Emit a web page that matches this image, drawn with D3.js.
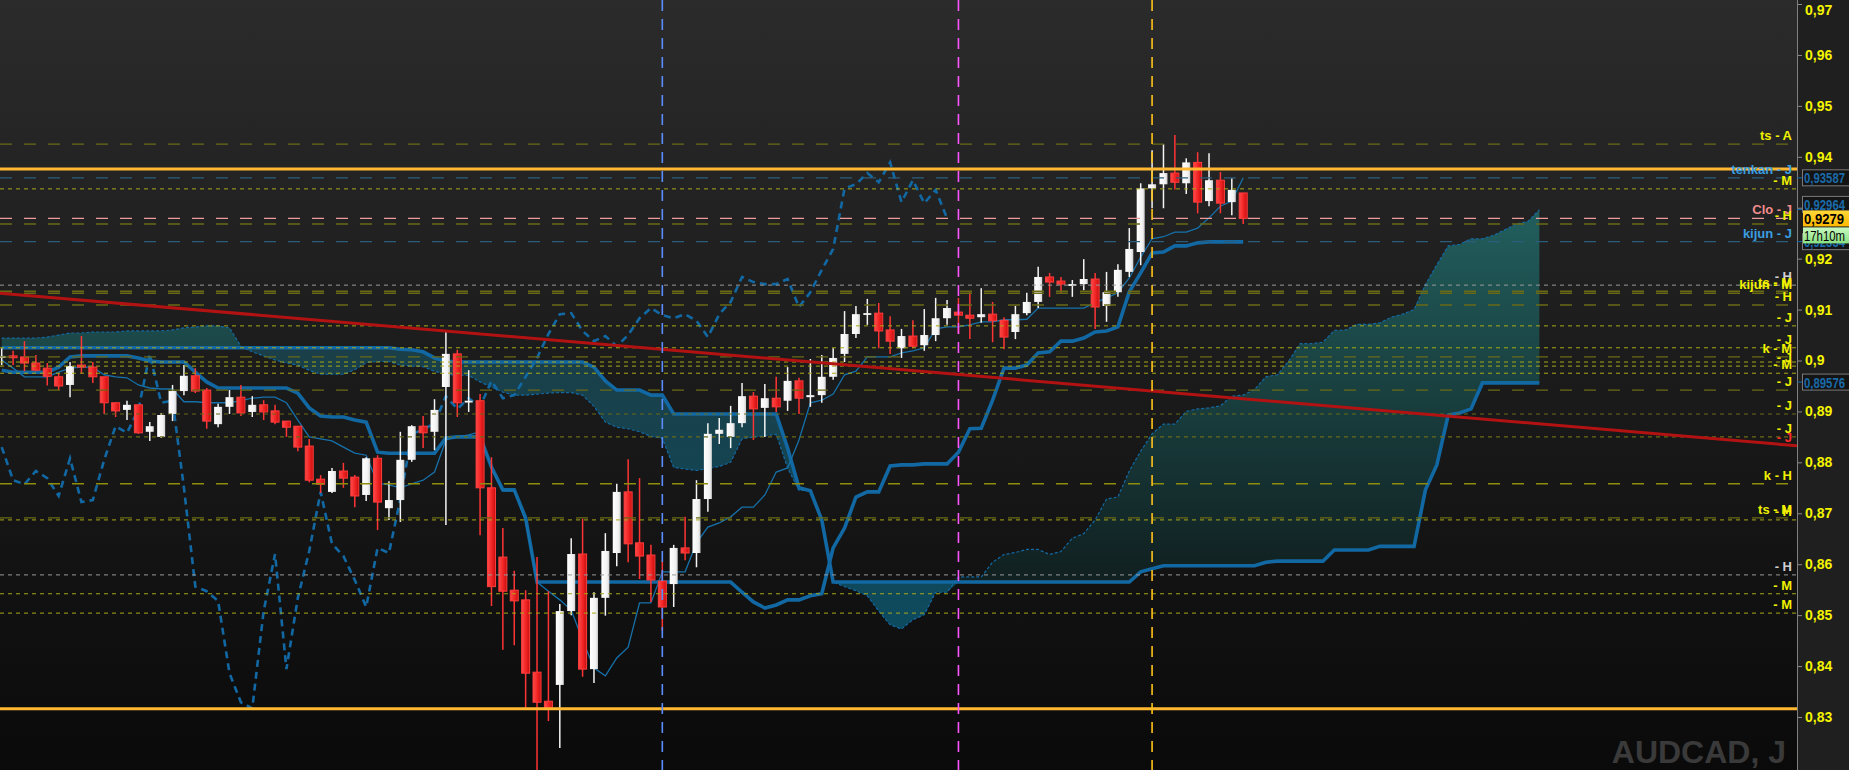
<!DOCTYPE html>
<html><head><meta charset="utf-8">
<script src="https://cdn.jsdelivr.net/npm/d3@7"></script>
<style>html,body{margin:0;padding:0;background:#1f1f1f;overflow:hidden}</style>
</head><body><svg id="c" width="1849" height="770"></svg>
<script>
// ---------------- DATA ----------------
const opens=[0.9005,0.9009,0.9007,0.8995,0.8985,0.8968,0.8952,0.8991,0.8987,0.8968,
0.8917,0.8903,0.8913,0.8860,0.8850,0.8895,0.8940,0.8970,0.8942,0.8875,
0.8909,0.8928,0.8899,0.8913,0.8901,0.8881,0.8871,0.8832,0.8767,0.8742,
0.8783,0.8771,0.8736,0.8808,0.8710,0.8726,0.8805,0.8871,0.8860,0.8948,
0.9013,0.8919,0.8921,0.8750,0.8614,0.8549,0.8530,0.8388,0.8331,0.8363,
0.8508,0.8620,0.8394,0.8534,0.8622,0.8742,0.8642,0.8618,0.8567,0.8561,
0.8632,0.8622,0.8728,0.8856,0.8850,0.8877,0.8930,0.8907,0.8926,0.8921,
0.8960,0.8928,0.8932,0.8968,0.9013,0.9052,0.9091,0.9093,0.9060,0.9024,
0.9048,0.9030,0.9050,0.9083,0.9095,0.9089,0.9085,0.9091,0.9079,0.9056,
0.9093,0.9115,0.9164,0.9156,0.9148,0.9150,0.9160,0.9107,0.9134,0.9174,
0.9213,0.9338,0.9346,0.9368,0.9348,0.9389,0.9313,0.9354,0.9311,0.9329];
const highs=[0.9024,0.9019,0.9038,0.9011,0.8995,0.8975,0.8997,0.9048,0.8997,0.8968,
0.8917,0.8921,0.8913,0.8879,0.8897,0.8952,0.8991,0.8985,0.8946,0.8915,
0.8942,0.8952,0.8930,0.8922,0.8913,0.8881,0.8871,0.8846,0.8775,0.8789,
0.8799,0.8775,0.8810,0.8814,0.8763,0.8860,0.8873,0.8891,0.8924,0.9056,
0.9021,0.8981,0.8934,0.8810,0.8671,0.8587,0.8549,0.8614,0.8547,0.8522,
0.8651,0.8689,0.8545,0.8661,0.8758,0.8806,0.8769,0.8638,0.8608,0.8638,
0.8693,0.8765,0.8877,0.8887,0.8911,0.8956,0.8938,0.8954,0.8968,0.8987,
0.8966,0.9003,0.9011,0.9024,0.9097,0.9107,0.9121,0.9113,0.9087,0.9062,
0.9079,0.9101,0.9123,0.9119,0.9123,0.9134,0.9142,0.9115,0.9085,0.9107,
0.9133,0.9184,0.9172,0.9164,0.9158,0.9199,0.9172,0.9174,0.9189,0.9260,
0.9348,0.9413,0.9425,0.9443,0.9397,0.9409,0.9407,0.9370,0.9358,0.9329];
const lows=[0.8991,0.8991,0.8979,0.8979,0.8951,0.8942,0.8928,0.8975,0.8956,0.8895,
0.8889,0.8883,0.8856,0.8842,0.8848,0.8881,0.8932,0.8936,0.8866,0.8869,
0.8895,0.8891,0.8889,0.8883,0.8875,0.8850,0.8822,0.8761,0.8740,0.8740,
0.8750,0.8712,0.8724,0.8667,0.8687,0.8683,0.8801,0.8828,0.8824,0.8677,
0.8889,0.8899,0.8657,0.8518,0.8432,0.8441,0.8314,0.8074,0.8292,0.8239,
0.8500,0.8379,0.8367,0.8499,0.8596,0.8604,0.8571,0.8526,0.8469,0.8516,
0.8608,0.8594,0.8703,0.8836,0.8828,0.8869,0.8844,0.8850,0.8899,0.8901,
0.8895,0.8909,0.8917,0.8962,0.8997,0.9044,0.9070,0.9024,0.9013,0.9005,
0.9024,0.9019,0.9038,0.9070,0.9052,0.9042,0.9074,0.9036,0.9022,0.9042,
0.9089,0.9103,0.9125,0.9132,0.9125,0.9138,0.9062,0.9076,0.9125,0.9164,
0.9187,0.9299,0.9299,0.9336,0.9327,0.9289,0.9303,0.9289,0.9285,0.9268];
const closes=[0.9009,0.9007,0.8995,0.8981,0.8969,0.8950,0.8989,0.8987,0.8968,0.8917,
0.8901,0.8913,0.8858,0.8871,0.8893,0.8940,0.8970,0.8940,0.8881,0.8909,
0.8928,0.8897,0.8913,0.8899,0.8879,0.8869,0.8830,0.8765,0.8757,0.8783,
0.8769,0.8734,0.8808,0.8722,0.8726,0.8805,0.8871,0.8858,0.8903,0.9013,
0.8917,0.8921,0.8750,0.8556,0.8547,0.8528,0.8386,0.8329,0.8317,0.8508,
0.8620,0.8394,0.8534,0.8626,0.8742,0.8640,0.8616,0.8569,0.8516,0.8632,
0.8622,0.8728,0.8856,0.8864,0.8877,0.8930,0.8905,0.8926,0.8909,0.8960,
0.8926,0.8932,0.8968,0.9005,0.9052,0.9091,0.9093,0.9058,0.9038,0.9048,
0.9028,0.9050,0.9083,0.9103,0.9089,0.9083,0.9091,0.9078,0.9046,0.9091,
0.9115,0.9164,0.9154,0.9150,0.9150,0.9160,0.9105,0.9134,0.9178,0.9219,
0.9338,0.9346,0.9368,0.9350,0.9389,0.9311,0.9354,0.9309,0.9335,0.9279];
const tenkan=[0.9001,0.8985,0.8968,0.8968,0.8968,0.8977,0.8985,0.8987,0.8987,0.8972,
0.8968,0.8966,0.8952,0.8946,0.8944,0.8944,0.8919,0.8919,0.8917,0.8917,
0.8917,0.8921,0.8926,0.8928,0.8928,0.8917,0.8883,0.8850,0.8846,0.8842,
0.8830,0.8818,0.8814,0.8759,0.8756,0.8750,0.8758,0.8765,0.8781,0.8844,
0.8850,0.8854,0.8860,0.8787,0.8744,0.8744,0.8685,0.8565,0.8547,0.8530,
0.8510,0.8451,0.8396,0.8381,0.8416,0.8437,0.8524,0.8524,0.8585,0.8585,
0.8585,0.8642,0.8673,0.8681,0.8693,0.8712,0.8712,0.8736,0.8781,0.8789,
0.8844,0.8917,0.8922,0.8934,0.8972,0.8979,0.9007,0.9007,0.9007,0.9015,
0.9019,0.9025,0.9062,0.9066,0.9066,0.9070,0.9076,0.9076,0.9080,0.9080,
0.9081,0.9103,0.9103,0.9103,0.9103,0.9103,0.9113,0.9123,0.9133,0.9162,
0.9203,0.9239,0.9243,0.9252,0.9252,0.9260,0.9280,0.9303,0.9313,0.9359];
const kijun=[0.8981,0.8977,0.8977,0.8977,0.8977,0.8987,0.9007,0.9009,0.9009,0.9009,
0.9009,0.9009,0.9005,0.8999,0.8997,0.8997,0.8997,0.8977,0.8958,0.8946,
0.8946,0.8946,0.8946,0.8946,0.8946,0.8946,0.8936,0.8907,0.8891,0.8889,
0.8889,0.8883,0.8879,0.8820,0.8818,0.8818,0.8818,0.8818,0.8818,0.8848,
0.8850,0.8850,0.8850,0.8791,0.8746,0.8746,0.8691,0.8565,0.8565,0.8565,
0.8565,0.8565,0.8565,0.8565,0.8565,0.8565,0.8565,0.8565,0.8565,0.8565,
0.8565,0.8565,0.8565,0.8565,0.8565,0.8545,0.8526,0.8514,0.8520,0.8530,
0.8530,0.8538,0.8542,0.8632,0.8671,0.8732,0.8742,0.8742,0.8793,0.8795,
0.8795,0.8797,0.8797,0.8797,0.8820,0.8866,0.8867,0.8922,0.8985,0.8985,
0.8991,0.9015,0.9017,0.9038,0.9038,0.9044,0.9056,0.9058,0.9066,0.9135,
0.9172,0.9211,0.9213,0.9225,0.9225,0.9231,0.9233,0.9233,0.9233,0.9233];
const senkouA=[0.9044,0.9044,0.9044,0.9044,0.9046,0.9050,0.9054,0.9054,0.9056,0.9056,
0.9056,0.9058,0.9058,0.9058,0.9058,0.9060,0.9064,0.9066,0.9068,0.9068,
0.9064,0.9028,0.9017,0.9009,0.9001,0.8995,0.8991,0.8981,0.8973,0.8973,
0.8973,0.8982,0.8996,0.8998,0.8998,0.8991,0.8989,0.8988,0.8979,0.8973,
0.8971,0.8971,0.8958,0.8948,0.8938,0.8932,0.8932,0.8934,0.8936,0.8937,
0.8937,0.8932,0.8910,0.8879,0.8869,0.8866,0.8860,0.8851,0.8847,0.8790,
0.8787,0.8784,0.8788,0.8792,0.8800,0.8846,0.8850,0.8852,0.8855,0.8789,
0.8745,0.8745,0.8688,0.8565,0.8556,0.8548,0.8538,0.8508,0.8481,0.8473,
0.8491,0.8501,0.8545,0.8545,0.8575,0.8575,0.8575,0.8604,0.8619,0.8623,
0.8629,0.8629,0.8619,0.8625,0.8651,0.8660,0.8687,0.8728,0.8732,0.8783,
0.8822,0.8856,0.8875,0.8875,0.8900,0.8905,0.8907,0.8911,0.8930,0.8932,
0.8943,0.8968,0.8972,0.8999,0.9033,0.9033,0.9036,0.9059,0.9060,0.9071,
0.9071,0.9074,0.9085,0.9091,0.9100,0.9149,0.9188,0.9225,0.9228,0.9239,
0.9239,0.9246,0.9257,0.9268,0.9273,0.9296];
const senkouB=[0.9025,0.9025,0.9025,0.9025,0.9025,0.9025,0.9025,0.9025,0.9025,0.9025,
0.9025,0.9025,0.9025,0.9025,0.9025,0.9025,0.9025,0.9025,0.9025,0.9025,
0.9025,0.9025,0.9025,0.9025,0.9025,0.9025,0.9025,0.9025,0.9025,0.9025,
0.9025,0.9025,0.9025,0.9025,0.9025,0.9022,0.9021,0.9017,0.9005,0.8999,
0.8997,0.8997,0.8997,0.8997,0.8997,0.8997,0.8997,0.8997,0.8997,0.8997,
0.8997,0.8997,0.8987,0.8960,0.8942,0.8942,0.8942,0.8932,0.8932,0.8895,
0.8895,0.8895,0.8895,0.8895,0.8895,0.8895,0.8895,0.8895,0.8895,0.8828,
0.8750,0.8744,0.8687,0.8565,0.8565,0.8565,0.8565,0.8565,0.8565,0.8565,
0.8565,0.8565,0.8565,0.8565,0.8565,0.8565,0.8565,0.8565,0.8565,0.8565,
0.8565,0.8565,0.8565,0.8565,0.8565,0.8565,0.8565,0.8565,0.8565,0.8565,
0.8585,0.8591,0.8597,0.8597,0.8597,0.8597,0.8597,0.8597,0.8597,0.8597,
0.8597,0.8604,0.8606,0.8606,0.8606,0.8606,0.8606,0.8628,0.8628,0.8628,
0.8628,0.8635,0.8635,0.8635,0.8635,0.8746,0.8795,0.8893,0.8897,0.8905,
0.8956,0.8956,0.8956,0.8956,0.8956,0.8956];
const chikouShift=26;
const tickValues=[0.83,0.84,0.85,0.86,0.87,0.88,0.89,0.90,0.91,0.92,0.93,0.94,0.95,0.96,0.97];
const levelValues=[0.9425,0.9376,0.93587,0.9337,0.9279,0.9268,0.92334,0.9148,0.9136,0.9132,0.9109,0.9068,0.9025,0.9007,0.8997,0.8989,0.8975,0.8942,0.8895,0.8850,0.8758,0.8691,0.8687,0.8579,0.8542,0.8504,0.8316];
const levelKinds=['olive','orange','blue','yellow','pink','olive','blue','grey','olive','olive','olive','yellow','yellow','olive','yellow','yellow','yellow','olive','oliveShort','oliveShort','bright','olive','yellow','grey','yellow','yellow','orange'];
const labelTexts=['ts - A','tenkan - J','- M','Clo - J','- H','kijun - J','- H','kijun - M','ts - M','- H','- J','- J','k - M','- J','- M','- J','- J','- J','- J','k - H','ts - M','- H','- H','- M','- M'];
const labelValues=[0.9425,0.93587,0.9337,0.9279,0.9268,0.92334,0.9148,0.9133,0.9136,0.9109,0.9068,0.9025,0.9007,0.8989,0.8975,0.8942,0.8895,0.8850,0.8833,0.8758,0.8691,0.8687,0.8579,0.8542,0.8504];
const labelTones=['y','b','y','p','y','b','w','y','y','y','y','y','y','y','y','y','y','y','r','y','y','y','w','y','y'];
const trendPoints=[{i:0,v:0.9132},{i:150,v:0.8847}];
const markerIdx=[58,84,101];
const markerTones=['blue','magenta','gold'];
const boxValues=[0.93587,0.92964,0.92334,0.89576];
const lastPrice=0.9279;
const countdown='17h10m';
const symbolText='AUDCAD, J';

// ---------------- RENDER ----------------
const W=1849,H=770,AX=1797;
const FONT='"Liberation Sans",Arial,Helvetica,sans-serif';
const x=d3.scaleLinear().domain([0,109]).range([1.7,1243.2]);
const y=d3.scaleLinear().domain([0.83,0.97]).range([717,4]);
const svg=d3.select('#c');
const defs=svg.append('defs');
function vgrad(id,stops,units,y1,y2,x2){
  const gr=defs.append('linearGradient').attr('id',id);
  if(units){gr.attr('gradientUnits','userSpaceOnUse').attr('x1',0).attr('x2',0).attr('y1',y1).attr('y2',y2);}
  else if(x2){gr.attr('x1',0).attr('y1',0).attr('x2',1).attr('y2',0);}
  else {gr.attr('x1',0).attr('y1',0).attr('x2',0).attr('y2',1);}
  stops.forEach(s=>gr.append('stop').attr('offset',s[0]).attr('stop-color',s[1]));
}
vgrad('bg',[['0%','#2b2b2b'],['100%','#0a0a0a']]);
vgrad('bull',[['0%','#22605f'],['100%','#101c1d']],true,200,600);
vgrad('bear',[['0%','#1a3f48'],['100%','#0d4b5f']],true,350,640);
vgrad('wc',[['0%','#ffffff'],['70%','#f2f2f2'],['100%','#cfcfcf']],false,0,0,true);
vgrad('rc',[['0%','#ff4a4a'],['60%','#ee2020'],['100%','#c01010']],false,0,0,true);
vgrad('pbox',[['0%','#ffd83a'],['100%','#ffb800']]);
vgrad('gbox',[['0%','#c8f8c0'],['100%','#88e080']]);

svg.append('rect').attr('width',W).attr('height',H).attr('fill','#1f1f1f');
svg.append('rect').attr('width',AX).attr('height',H).attr('fill','url(#bg)');
defs.append('clipPath').attr('id','clip').append('rect').attr('width',AX).attr('height',H);
defs.append('clipPath').attr('id','aclip').append('rect').attr('x',AX).attr('width',W-AX).attr('height',H);
const g=svg.append('g').attr('clip-path','url(#clip)');

// watermark
g.append('text').attr('x',1786).attr('y',763).attr('text-anchor','end')
  .attr('fill','#3a3a3a').style('font',`bold 32px ${FONT}`).text(symbolText);

// cloud
const cIdx=d3.range(senkouA.length);
g.append('path').attr('fill','url(#bull)')
  .attr('d',d3.area().x(i=>x(i)).y0(i=>y(senkouB[i])).y1(i=>Math.min(y(senkouA[i]),y(senkouB[i])))(cIdx));
g.append('path').attr('fill','url(#bear)')
  .attr('d',d3.area().x(i=>x(i)).y0(i=>y(senkouB[i])).y1(i=>Math.max(y(senkouA[i]),y(senkouB[i])))(cIdx));

const ln=d3.line().x((d,i)=>x(i)).y(d=>y(d));
const LB='#1268a3';
g.append('path').attr('d',ln(senkouA)).attr('fill','none').attr('stroke',LB).attr('stroke-width',1.2).attr('stroke-dasharray','3,2');
g.append('path').attr('d',ln(senkouB)).attr('fill','none').attr('stroke',LB).attr('stroke-width',3.6);
g.append('path').attr('d',ln(kijun)).attr('fill','none').attr('stroke',LB).attr('stroke-width',3.6);
g.append('path').attr('d',ln(tenkan)).attr('fill','none').attr('stroke','#1670aa').attr('stroke-width',1.3);
g.append('path').attr('d',ln(closes.slice(chikouShift))).attr('fill','none').attr('stroke','#1268a3')
  .attr('stroke-width',2.6).attr('stroke-dasharray','7,5');

// candles
const idx=d3.range(closes.length);
const cg=g.append('g');
idx.forEach(i=>{
  const up=closes[i]>=opens[i];
  const cx=x(i);
  cg.append('line').attr('x1',cx).attr('x2',cx).attr('y1',y(highs[i])).attr('y2',y(lows[i]))
    .attr('stroke',up?'#f4f4f4':'#ff3434').attr('stroke-width',1.5);
  const top=y(Math.max(opens[i],closes[i])), bot=y(Math.min(opens[i],closes[i]));
  const h=Math.max(bot-top,1.8);
  if(up){
    cg.append('rect').attr('x',cx-4).attr('y',top).attr('width',8).attr('height',h).attr('fill','url(#wc)');
  } else {
    cg.append('rect').attr('x',cx-4).attr('y',top).attr('width',8).attr('height',h)
      .attr('fill','url(#rc)').attr('stroke','#ff3c3c').attr('stroke-width',1);
  }
});

// horizontal levels
const kindStyle={
  olive:{c:'#6a6a16',w:1.3,d:'12,12'},
  oliveShort:{c:'#6a6a16',w:1.2,d:'4,4'},
  yellow:{c:'#a9a916',w:1,d:'4,4'},
  grey:{c:'#9a9a9a',w:1,d:'4,4'},
  blue:{c:'#2c5c7c',w:1.3,d:'12,12'},
  pink:{c:'#ec9c9c',w:1.3,d:'12,12'},
  bright:{c:'#8e8e0c',w:1.5,d:'12,12'},
  orange:{c:'#ffb830',w:3,d:null}
};
levelValues.forEach((v,k)=>{
  const s=kindStyle[levelKinds[k]];
  const l=g.append('line').attr('x1',0).attr('x2',AX).attr('y1',y(v)).attr('y2',y(v))
    .attr('stroke',s.c).attr('stroke-width',s.w);
  if(s.d) l.attr('stroke-dasharray',s.d);
});

// trend line
const tx0=x(trendPoints[0].i), tx1=x(trendPoints[1].i);
const ty0=y(trendPoints[0].v), ty1=y(trendPoints[1].v);
const slope=(ty1-ty0)/(tx1-tx0);
g.append('line').attr('x1',0).attr('y1',ty0-slope*tx0).attr('x2',AX).attr('y2',ty0+slope*(AX-tx0))
  .attr('stroke','#b31212').attr('stroke-width',3);

// vertical markers
const markerColor={blue:'#5b8dff',magenta:'#ff55ff',gold:'#ffc21a'};
markerIdx.forEach((m,k)=>{
  g.append('line').attr('x1',x(m)).attr('x2',x(m)).attr('y1',0).attr('y2',H)
    .attr('stroke',markerColor[markerTones[k]]).attr('stroke-width',1.6).attr('stroke-dasharray','11,8');
});

// right-side labels
const toneColor={y:'#f0f000',b:'#3a9ee0',p:'#f08c8c',w:'#d0d0d0',r:'#ff2a2a'};
labelTexts.forEach((t,k)=>{
  svg.append('text').attr('x',1792).attr('y',y(labelValues[k])-4).attr('text-anchor','end')
    .attr('fill',toneColor[labelTones[k]]).style('font',`bold 13px ${FONT}`).text(t);
});

// axis
const fmt=v=>String(+v.toFixed(2)).replace('.',',');
const ag=svg.append('g').attr('transform',`translate(${AX},0)`)
  .call(d3.axisRight(y).tickValues(tickValues).tickSize(5).tickSizeOuter(0).tickPadding(3).tickFormat(fmt));
ag.select('.domain').remove();
ag.selectAll('.tick line').attr('stroke','#8a8a8a');
ag.selectAll('.tick text').attr('fill','#f4f400').style('font',`bold 14px ${FONT}`);
ag.selectAll('.tick').filter(d=>d===0.97).select('text').attr('dy','0.72em');
svg.append('line').attr('x1',AX+0.5).attr('x2',AX+0.5).attr('y1',0).attr('y2',H).attr('stroke','#808080');

// value boxes on the axis
const bx=svg.append('g').attr('clip-path','url(#aclip)');
const py=y(lastPrice);
function vbox(v){
  let cy=y(v);
  if(cy<py && py-cy<16) cy=py-14;
  bx.append('line').attr('x1',AX).attr('x2',AX+6).attr('y1',y(v)).attr('y2',y(v)).attr('stroke','#1a6aa8');
  bx.append('rect').attr('x',AX+5.5).attr('y',cy-8).attr('width',60).attr('height',16)
    .attr('fill','#141414').attr('stroke','#7a7a7a');
  bx.append('text').attr('x',AX+7).attr('y',cy+5.5).attr('fill','#1a6aa8')
    .attr('textLength',41).attr('lengthAdjust','spacingAndGlyphs')
    .style('font',`bold 14px ${FONT}`).text(String(v).replace('.',','));
}
boxValues.forEach(vbox);
bx.append('rect').attr('x',AX+6).attr('y',py-8).attr('width',60).attr('height',16).attr('fill','url(#pbox)');
bx.append('text').attr('x',AX+7).attr('y',py+5.5).attr('fill','#000')
  .attr('textLength',40).attr('lengthAdjust','spacingAndGlyphs')
  .style('font',`bold 15px ${FONT}`).text(String(lastPrice).replace('.',','));
bx.append('rect').attr('x',AX+6).attr('y',py+9).attr('width',60).attr('height',16).attr('fill','url(#gbox)');
bx.append('text').attr('x',AX+7).attr('y',py+22.5).attr('fill','#000')
  .attr('textLength',41).attr('lengthAdjust','spacingAndGlyphs')
  .style('font',`15px ${FONT}`).text(countdown);
</script></body></html>
